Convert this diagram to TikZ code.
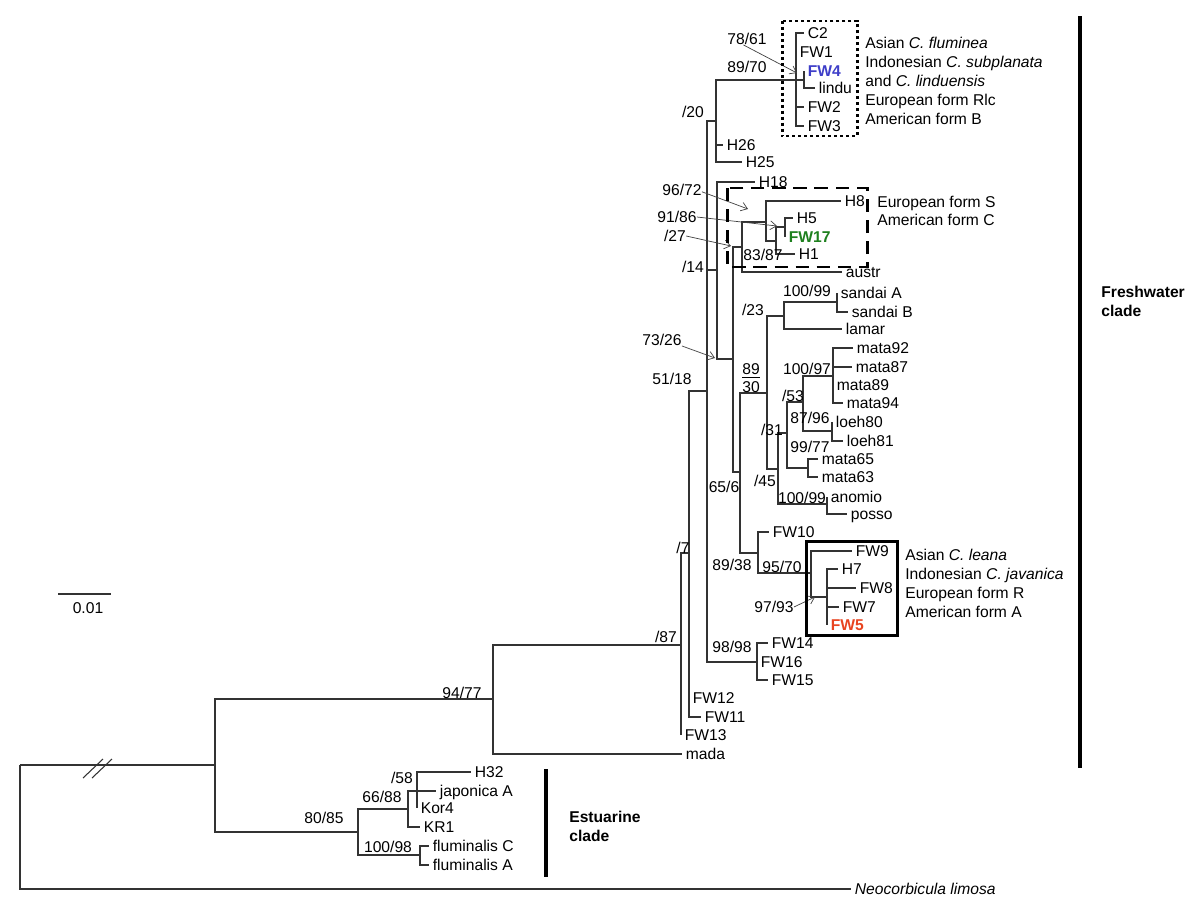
\documentclass[tikz,border=0pt]{standalone}
\usepackage{fontspec}
\setmainfont{Liberation Sans}
\usepackage{xcolor}
\usetikzlibrary{arrows.meta,positioning}
\definecolor{fwblue}{RGB}{62,62,200}
\definecolor{fwgreen}{RGB}{30,128,30}
\definecolor{fwred}{RGB}{232,68,32}
\tikzset{
  branch/.style={draw=black!80,line width=0.6pt},
  leaf/.style={
    anchor=west,
    inner sep=2pt,
    text height=6.4pt,
    text depth=0pt,
    font=\fontsize{8.9}{10.6}\selectfont
  },
  bs/.style={
    inner sep=0pt,
    text height=6.4pt,
    text depth=0pt,
    font=\fontsize{8.9}{10.6}\selectfont
  },
  cladetxt/.style={leaf,inner sep=0pt},
  ptr/.style={-{Straight Barb[length=3.5pt,width=5pt]},draw=black!75,line width=0.4pt},
  cladebar/.style={line width=2.4pt},
  cladebox/.style={line width=1.7pt}
}

\begin{document}
\begin{tikzpicture}[x=0.02cm,y=-0.02cm]
\useasboundingbox (0,0) rectangle (1200,913);
% internal nodes
\coordinate (root) at (20,765);
\coordinate (nAll) at (215,765);
\coordinate (nA) at (493,699);
\coordinate (nB) at (681,645);
\coordinate (nC) at (689,553);
\coordinate (nD) at (707,391);
\coordinate (nE) at (716,121);
\coordinate (nZ) at (796,80);
\coordinate (nW4) at (804,80);
\coordinate (nF) at (717,270);
\coordinate (nN) at (733,359);
\coordinate (nJ) at (742,247);
\coordinate (nL) at (766,222);
\coordinate (nM) at (776,241);
\coordinate (nH5) at (785,227);
\coordinate (nG) at (740,472);
\coordinate (nH) at (767,393);
\coordinate (nO) at (784,316);
\coordinate (nQ) at (837,302);
\coordinate (nP) at (778,469);
\coordinate (nR) at (787,433);
\coordinate (nT) at (803,402);
\coordinate (nU) at (833,376);
\coordinate (nV) at (832,431);
\coordinate (nWm) at (808,468);
\coordinate (nS) at (827,504);
\coordinate (nI) at (758,553);
\coordinate (nX) at (811,573);
\coordinate (nY) at (827,597);
\coordinate (nFWa) at (757,662);
\coordinate (nEst) at (358,832);
\coordinate (nKR) at (408,809);
\coordinate (n58) at (417,791);
\coordinate (nFl) at (420,855);

% leaves
\node[leaf] (C2) at (804,33) {C2};
\node[leaf] (FW1) at (796,52) {FW1};
\node[leaf,text=fwblue,font=\fontsize{8.9}{10.6}\selectfont\bfseries] (FW4) at (804,71) {FW4};
\node[leaf] (lindu) at (815,88) {lindu};
\node[leaf] (FW2) at (804,107) {FW2};
\node[leaf] (FW3) at (804,126) {FW3};
\node[leaf] (H26) at (723,145) {H26};
\node[leaf] (H25) at (742,162) {H25};
\node[leaf] (H18) at (755,182) {H18};
\node[leaf] (H8) at (841,201) {H8};
\node[leaf] (H5) at (793,218) {H5};
\node[leaf,text=fwgreen,font=\fontsize{8.9}{10.6}\selectfont\bfseries] (FW17) at (785,237) {FW17};
\node[leaf] (H1) at (795,254) {H1};
\node[leaf] (austr) at (842,272) {austr};
\node[leaf] (sandaiA) at (837,293) {sandai A};
\node[leaf] (sandaiB) at (848,312) {sandai B};
\node[leaf] (lamar) at (842,329) {lamar};
\node[leaf] (mata92) at (853,348) {mata92};
\node[leaf] (mata87) at (852,367) {mata87};
\node[leaf] (mata89) at (833,385) {mata89};
\node[leaf] (mata94) at (843,403) {mata94};
\node[leaf] (loeh80) at (832,422) {loeh80};
\node[leaf] (loeh81) at (843,441) {loeh81};
\node[leaf] (mata65) at (818,459) {mata65};
\node[leaf] (mata63) at (818,477) {mata63};
\node[leaf] (anomio) at (827,497) {anomio};
\node[leaf] (posso) at (847,514) {posso};
\node[leaf] (FW10) at (769,532) {FW10};
\node[leaf] (FW9) at (852,551) {FW9};
\node[leaf] (H7) at (838,569) {H7};
\node[leaf] (FW8) at (856,588) {FW8};
\node[leaf] (FW7) at (839,607) {FW7};
\node[leaf,text=fwred,font=\fontsize{8.9}{10.6}\selectfont\bfseries] (FW5) at (827,625) {FW5};
\node[leaf] (FW14) at (768,643) {FW14};
\node[leaf] (FW16) at (757,662) {FW16};
\node[leaf] (FW15) at (768,680) {FW15};
\node[leaf] (FW12) at (689,698) {FW12};
\node[leaf] (FW11) at (701,717) {FW11};
\node[leaf] (FW13) at (681,735) {FW13};
\node[leaf] (mada) at (682,754) {mada};
\node[leaf] (H32) at (471,772) {H32};
\node[leaf] (japA) at (436,791) {japonica A};
\node[leaf] (Kor4) at (417,808) {Kor4};
\node[leaf] (KR1) at (420,827) {KR1};
\node[leaf] (flumC) at (429,846) {fluminalis C};
\node[leaf] (flumA) at (429,865) {fluminalis A};
\node[leaf] (Neo) at (851,889) {\itshape Neocorbicula limosa};

% branches
\draw[branch] (root) |- (nAll) (root) |- (Neo);
\draw[branch] (nAll) |- (nA) (nAll) |- (nEst);
\draw[branch] (nA) |- (nB) (nA) |- (mada);
\draw[branch] (nB) |- (nC) (nB) |- (FW13);
\draw[branch] (nC) |- (nD) (nC) |- (FW12) (nC) |- (FW11);
\draw[branch] (nD) |- (nE) (nD) |- (nF) (nD) |- (nFWa);
\draw[branch] (nE) |- (nZ) (nE) |- (H26) (nE) |- (H25);
\draw[branch] (nZ) |- (C2) (nZ) |- (FW1) (nZ) |- (nW4) (nZ) |- (FW2) (nZ) |- (FW3);
\draw[branch] (nW4) |- (FW4) (nW4) |- (lindu);
\draw[branch] (nF) |- (H18) (nF) |- (nN);
\draw[branch] (nN) |- (nJ) (nN) |- (nG);
\draw[branch] (nJ) |- (nL) (nJ) |- (austr);
\draw[branch] (nL) |- (H8) (nL) |- (nM);
\draw[branch] (nM) |- (nH5) (nM) |- (H1);
\draw[branch] (nH5) |- (H5) (nH5) |- (FW17);
\draw[branch] (nG) |- (nH) (nG) |- (nI);
\draw[branch] (nH) |- (nO) (nH) |- (nP);
\draw[branch] (nO) |- (nQ) (nO) |- (lamar);
\draw[branch] (nQ) |- (sandaiA) (nQ) |- (sandaiB);
\draw[branch] (nP) |- (nR) (nP) |- (nS);
\draw[branch] (nR) |- (nT) (nR) |- (nWm);
\draw[branch] (nT) |- (nU) (nT) |- (nV);
\draw[branch] (nU) |- (mata92) (nU) |- (mata87) (nU) |- (mata89) (nU) |- (mata94);
\draw[branch] (nV) |- (loeh80) (nV) |- (loeh81);
\draw[branch] (nWm) |- (mata65) (nWm) |- (mata63);
\draw[branch] (nS) |- (anomio) (nS) |- (posso);
\draw[branch] (nI) |- (FW10) (nI) |- (nX);
\draw[branch] (nX) |- (FW9) (nX) |- (nY);
\draw[branch] (nY) |- (H7) (nY) |- (FW8) (nY) |- (FW7) (nY) |- (FW5);
\draw[branch] (nFWa) |- (FW14) (nFWa) |- (FW16) (nFWa) |- (FW15);
\draw[branch] (nEst) |- (nKR) (nEst) |- (nFl);
\draw[branch] (nKR) |- (n58) (nKR) |- (KR1);
\draw[branch] (n58) |- (H32) (n58) |- (japA) (n58) |- (Kor4);
\draw[branch] (nFl) |- (flumC) (nFl) |- (flumA);

% broken root branch
\draw[branch] (83,778) -- (103,759) (92,778) -- (112,759);

% support values
\node[bs] (b7861) at (747,39) {78/61};
\node[bs] (b8970) at (747,67) {89/70};
\node[bs] (b20) at (693,112) {/20};
\node[bs] (b9672) at (682,190) {96/72};
\node[bs] (b9186) at (677,217) {91/86};
\node[bs] (b27) at (675,236) {/27};
\node[bs] (b8387) at (763,255) {83/87};
\node[bs] (b14) at (693,267) {/14};
\node[bs] (b10099a) at (807,291) {100/99};
\node[bs] (b23) at (753,310) {/23};
\node[bs] (b7326) at (662,340) {73/26};
\node[bs] (b89) at (751,369) {\underline{89}};
\node[bs] (b100097) at (807,369) {100/97};
\node[bs] (b5118) at (672,379) {51/18};
\node[bs] (b30) at (751,387) {30};
\node[bs] (b53) at (793,396) {/53};
\node[bs] (b8796) at (810,418) {87/96};
\node[bs] (b31) at (772,430) {/31};
\node[bs] (b9977) at (810,447) {99/77};
\node[bs] (b45) at (765,481) {/45};
\node[bs] (b656) at (724,487) {65/6};
\node[bs] (b10099b) at (802,498) {100/99};
\node[bs] (b7) at (683,548) {/7};
\node[bs] (b8938) at (732,565) {89/38};
\node[bs] (b9570) at (782,567) {95/70};
\node[bs] (b9793) at (774,607) {97/93};
\node[bs] (b87) at (666,637) {/87};
\node[bs] (b9898) at (732,647) {98/98};
\node[bs] (b9477) at (462,693) {94/77};
\node[bs] (b58) at (402,778) {/58};
\node[bs] (b6688) at (382,797) {66/88};
\node[bs] (b8085) at (324,818) {80/85};
\node[bs] (b10098) at (388,847) {100/98};

% pointers
\coordinate (t7861) at (797,73);
\coordinate (t9672) at (748,209);
\coordinate (t9186) at (777,226);
\coordinate (t27) at (731,246);
\coordinate (t7326) at (715,358);
\coordinate (t9793) at (815,597);
\draw[ptr] ([xshift=-2pt]b7861.south) -- (t7861);
\draw[ptr] ([yshift=-1pt]b9672.east) -- (t9672);
\draw[ptr] (b9186.east) -- (t9186);
\draw[ptr] (b27.east) -- (t27);
\draw[ptr] (b7326.south east) -- (t7326);
\draw[ptr] (b9793.east) -- (t9793);

% clade boxes
\draw[cladebox,dash pattern=on 1.7pt off 1.7pt] (782,21) rectangle (857,136);
\draw[cladebox,dash pattern=on 7.5pt off 4.5pt] (727,188) rectangle (867,267);
\draw[cladebox] (806,541) rectangle (897,635);

% clade notes
\node[cladetxt] (fluA) at (865,43) {Asian \textit{C. fluminea}};
\node[cladetxt] (fluB) at (865,62) {Indonesian \textit{C. subplanata}};
\node[cladetxt] (fluC) at (865,81) {and \textit{C. linduensis}};
\node[cladetxt] (fluD) at (865,100) {European form Rlc};
\node[cladetxt] (fluE) at (865,119) {American form B};
\node[cladetxt] (formS) at (877,202) {European form S};
\node[cladetxt] (formC) at (877,220) {American form C};
\node[cladetxt] (leaA) at (905,555) {Asian \textit{C. leana}};
\node[cladetxt] (leaB) at (905,574) {Indonesian \textit{C. javanica}};
\node[cladetxt] (leaC) at (905,593) {European form R};
\node[cladetxt] (leaD) at (905,612) {American form A};

% clade bars
\draw[cladebar] (1080,16) -- (1080,768);
\node[cladetxt,font=\fontsize{8.9}{10.6}\selectfont\bfseries] (fresh) at (1101,292) {Freshwater};
\node[cladetxt,font=\fontsize{8.9}{10.6}\selectfont\bfseries] (freshB) at (1101,311) {clade};
\draw[cladebar] (546,769) -- (546,877);
\node[cladetxt,font=\fontsize{8.9}{10.6}\selectfont\bfseries] (estu) at (569,817) {Estuarine};
\node[cladetxt,font=\fontsize{8.9}{10.6}\selectfont\bfseries] (estuB) at (569,836) {clade};

% scale
\draw[branch] (58,594) -- (111,594);
\node[bs] (scale) at (88,608) {0.01};
\end{tikzpicture}
\end{document}
